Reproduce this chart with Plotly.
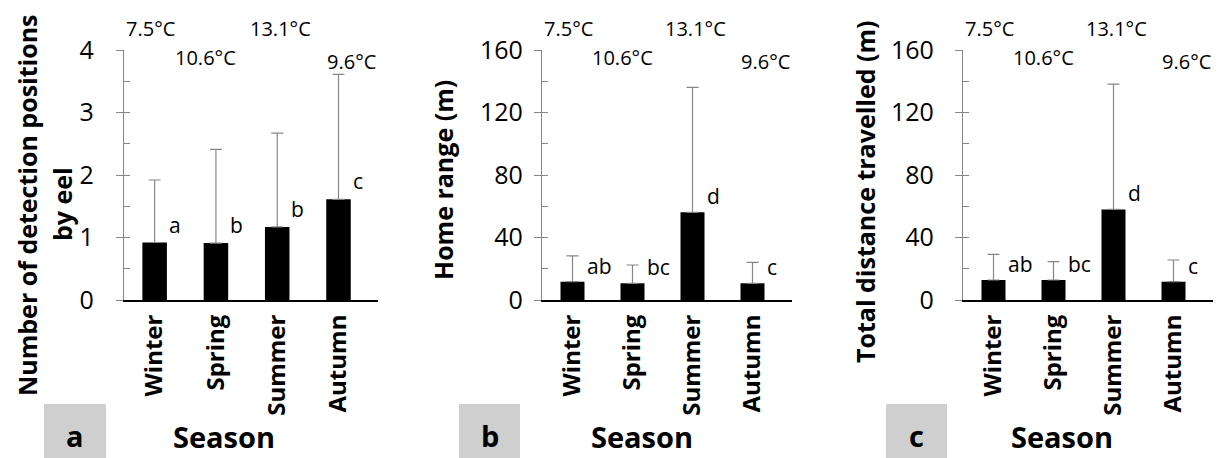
import plotly.graph_objects as go

# ---------------- data ----------------
seasons = ["Winter", "Spring", "Summer", "Autumn"]
temperatures = ["7.5°C", "10.6°C", "13.1°C", "9.6°C"]

detections_mean = [0.92, 0.91, 1.17, 1.61]
detections_sd = [1.00, 1.50, 1.50, 2.00]
detections_letters = ["a", "b", "b", "c"]

home_range_mean = [11.7, 10.7, 56.1, 10.7]
home_range_sd = [16.5, 11.7, 80.0, 13.4]
home_range_letters = ["ab", "bc", "d", "c"]

distance_mean = [12.8, 12.8, 58.0, 11.7]
distance_sd = [16.4, 11.7, 80.2, 13.9]
distance_letters = ["ab", "bc", "d", "c"]

panel_labels = ["a", "b", "c"]
y_titles = ["Number of detection positions", "Home range (m)", "Total distance travelled (m)"]
y_title_extra = "by eel"
x_title = "Season"

# ---------------- layout constants ----------------
W, H = 1223, 458
FONT = "Open Sans"
GRAY = "#868686"

def px_x(p):
    return p / W

def px_y(p):
    return 1 - p / H

y_dom = [px_y(300), px_y(50)]
x_doms = [[px_x(124), px_x(378)], [px_x(542), px_x(792)], [px_x(963), px_x(1213)]]

panels = [
    dict(mean=detections_mean, sd=detections_sd, letters=detections_letters,
         rng=[0, 4], dtick=1, minor=0.5, standoff=17, letter_yshift=2),
    dict(mean=home_range_mean, sd=home_range_sd, letters=home_range_letters,
         rng=[0, 160], dtick=40, minor=20, standoff=6, letter_yshift=0),
    dict(mean=distance_mean, sd=distance_sd, letters=distance_letters,
         rng=[0, 160], dtick=40, minor=20, standoff=16, letter_yshift=0),
]

fig = go.Figure()
annotations = []
shapes = []
layout = {}

temp_xshift = [-4, -10, 3, 13]
temp_ypx = [29, 58, 29, 61]

box_x = [(44, 106), (459, 520), (886, 947)]
season_cx = [224, 642, 1062]

for i, p in enumerate(panels):
    n = i + 1
    xa = "x" if n == 1 else f"x{n}"
    ya = "y" if n == 1 else f"y{n}"
    ya_over = f"y{n + 3}"
    fig.add_trace(go.Bar(
        x=seasons, y=p["mean"], xaxis=xa, yaxis=ya,
        marker=dict(color="black", line=dict(width=0)),
        error_y=dict(type="data", symmetric=False, array=p["sd"],
                     arrayminus=[0] * len(p["sd"]),
                     color=GRAY, thickness=1.2, width=6),
        showlegend=False, hoverinfo="skip",
    ))
    # invisible trace for the overlay axis that draws the inside ticks
    fig.add_trace(go.Scatter(x=[seasons[0]], y=[p["rng"][0]], xaxis=xa, yaxis=ya_over,
                             mode="markers", marker=dict(opacity=0), showlegend=False,
                             hoverinfo="skip"))

    xkey = "xaxis" if n == 1 else f"xaxis{n}"
    ykey = "yaxis" if n == 1 else f"yaxis{n}"
    layout[xkey] = dict(
        domain=x_doms[i], anchor=ya, type="category", automargin=False,
        showline=True, linecolor="black", linewidth=2,
        ticks="", tickangle=-90, showgrid=False, zeroline=False,
        tickfont=dict(family=FONT, size=24, color="black", weight="bold"),
        ticklabelstandoff=3,
    )
    layout[ykey] = dict(
        domain=y_dom, anchor=xa, range=p["rng"], dtick=p["dtick"], automargin=False,
        showline=True, linecolor=GRAY, linewidth=1.2,
        ticks="outside", ticklen=7, tickcolor=GRAY, tickwidth=1.2,
        showgrid=False, zeroline=False,
        tickfont=dict(family=FONT, size=25, color="black"),
        ticklabelstandoff=p["standoff"],
    )
    layout[f"yaxis{n + 3}"] = dict(
        overlaying=ya, anchor=xa, side="left", range=p["rng"], dtick=p["minor"],
        automargin=False,
        showline=False, ticks="inside", ticklen=6, tickcolor=GRAY, tickwidth=1.2,
        showticklabels=False, showgrid=False, zeroline=False,
    )

    # temperatures
    for j, t in enumerate(temperatures):
        annotations.append(dict(
            x=seasons[j], xref=xa, y=px_y(temp_ypx[j]), yref="paper",
            text=t, showarrow=False, xshift=temp_xshift[j],
            xanchor="center", yanchor="middle",
            font=dict(family=FONT, size=20, color="black"),
        ))
    # significance letters
    for j, lt in enumerate(p["letters"]):
        annotations.append(dict(
            x=seasons[j], xref=xa, y=p["mean"][j], yref=ya,
            text=lt, showarrow=False, xanchor="left", yanchor="bottom",
            xshift=12, yshift=p["letter_yshift"],
            font=dict(family=FONT, size=21, color="black"),
        ))
    # panel letter box
    shapes.append(dict(type="rect", xref="paper", yref="paper",
                       x0=px_x(box_x[i][0]), x1=px_x(box_x[i][1]),
                       y0=px_y(458), y1=px_y(404),
                       fillcolor="#cfcfcf", line=dict(width=0), layer="below"))
    annotations.append(dict(
        x=px_x((box_x[i][0] + box_x[i][1]) / 2), xref="paper",
        y=px_y(435), yref="paper", text=panel_labels[i], showarrow=False,
        xanchor="center", yanchor="middle", borderpad=0,
        font=dict(family=FONT, size=29, color="black", weight="bold"),
    ))
    annotations.append(dict(
        x=px_x(season_cx[i]), xref="paper", y=px_y(436), yref="paper",
        text=x_title, showarrow=False, xanchor="center", yanchor="middle",
        borderpad=0,
        font=dict(family=FONT, size=29, color="black", weight="bold"),
    ))

# y titles
ytitle_font = dict(family=FONT, size=25, color="black", weight="bold")
annotations.append(dict(x=px_x(27), xref="paper", y=px_y(205), yref="paper",
                        text=y_titles[0], textangle=-90, showarrow=False,
                        xanchor="center", yanchor="middle", font=ytitle_font))
annotations.append(dict(x=px_x(62), xref="paper", y=px_y(204), yref="paper",
                        text=y_title_extra, textangle=-90, showarrow=False,
                        xanchor="center", yanchor="middle", font=ytitle_font))
annotations.append(dict(x=px_x(443), xref="paper", y=px_y(180), yref="paper",
                        text=y_titles[1], textangle=-90, showarrow=False,
                        xanchor="center", yanchor="middle", font=ytitle_font))
annotations.append(dict(x=px_x(865), xref="paper", y=px_y(192), yref="paper",
                        text=y_titles[2], textangle=-90, showarrow=False,
                        xanchor="center", yanchor="middle", font=ytitle_font))

fig.update_layout(
    width=W, height=H, margin=dict(l=0, r=0, t=0, b=0, autoexpand=False),
    paper_bgcolor="white", plot_bgcolor="white",
    bargap=0.6, showlegend=False,
    annotations=annotations, shapes=shapes,
    font=dict(family=FONT, color="black"),
    **layout,
)

fig.write_html("out.html", config={"displayModeBar": False})
